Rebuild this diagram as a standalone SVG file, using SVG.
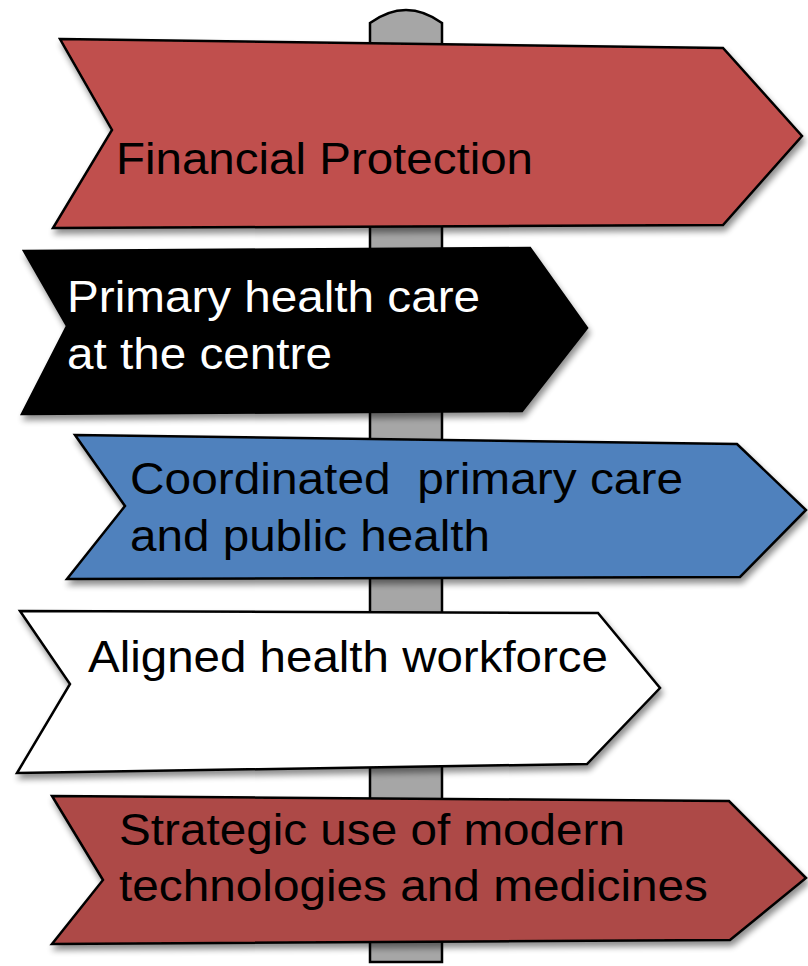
<svg xmlns="http://www.w3.org/2000/svg" width="808" height="966" viewBox="0 0 808 966">
<style>
.sign{stroke:#000;stroke-width:2.5;stroke-linejoin:miter;filter:url(#sh)}
.t{font-family:"Liberation Sans",Arial,sans-serif;font-size:44px}
</style>
<defs>
<filter id="sh" x="-5%" y="-10%" width="115%" height="130%">
<feGaussianBlur in="SourceAlpha" stdDeviation="3"/>
<feOffset dx="2" dy="5" result="b"/>
<feComponentTransfer><feFuncA type="linear" slope="0.45"/></feComponentTransfer>
<feMerge><feMergeNode/><feMergeNode in="SourceGraphic"/></feMerge>
</filter>
</defs>
<rect width="808" height="966" fill="#fff"/>
<g id="post">
<path d="M370,962 L370,23 Q406,-3 442,23 L442,962 Z" fill="#a6a6a6" stroke="#000" stroke-width="2.5"/>
</g>
<g id="sign1">
<polygon class="sign" points="60,39 723,48 802,136 723,225 53,228 112,130" fill="#c0504d"/>
<text class="t" x="116" y="174" textLength="417" lengthAdjust="spacingAndGlyphs" fill="#000">Financial Protection</text>
</g>
<g id="sign2">
<polygon class="sign" points="24,251 530,248 587,328 522,411 22,414 67,326" fill="#000"/>
<text class="t" x="67" y="312" textLength="413" lengthAdjust="spacingAndGlyphs" fill="#fff">Primary health care</text>
<text class="t" x="67" y="369" textLength="265" lengthAdjust="spacingAndGlyphs" fill="#fff">at the centre</text>
</g>
<g id="sign3">
<polygon class="sign" points="75,435 737,444 806,510 740,577 67,579 125,506" fill="#4f81bd"/>
<text class="t" x="130" y="494" textLength="553" lengthAdjust="spacingAndGlyphs" fill="#000" xml:space="preserve">Coordinated  primary care</text>
<text class="t" x="130" y="551" textLength="360" lengthAdjust="spacingAndGlyphs" fill="#000">and public health</text>
</g>
<g id="sign4">
<polygon class="sign" points="20,611 598,613 660,688 587,764 17,773 70,684" fill="#fff"/>
<text class="t" x="88" y="672" textLength="520" lengthAdjust="spacingAndGlyphs" fill="#000">Aligned health workforce</text>
</g>
<g id="sign5">
<polygon class="sign" points="52,796 729,801 806,878 730,940 52,944 103,880" fill="#ad4a47"/>
<text class="t" x="119" y="845" textLength="506" lengthAdjust="spacingAndGlyphs" fill="#000">Strategic use of modern</text>
<text class="t" x="119" y="901" textLength="589" lengthAdjust="spacingAndGlyphs" fill="#000">technologies and medicines</text>
</g>
</svg>
